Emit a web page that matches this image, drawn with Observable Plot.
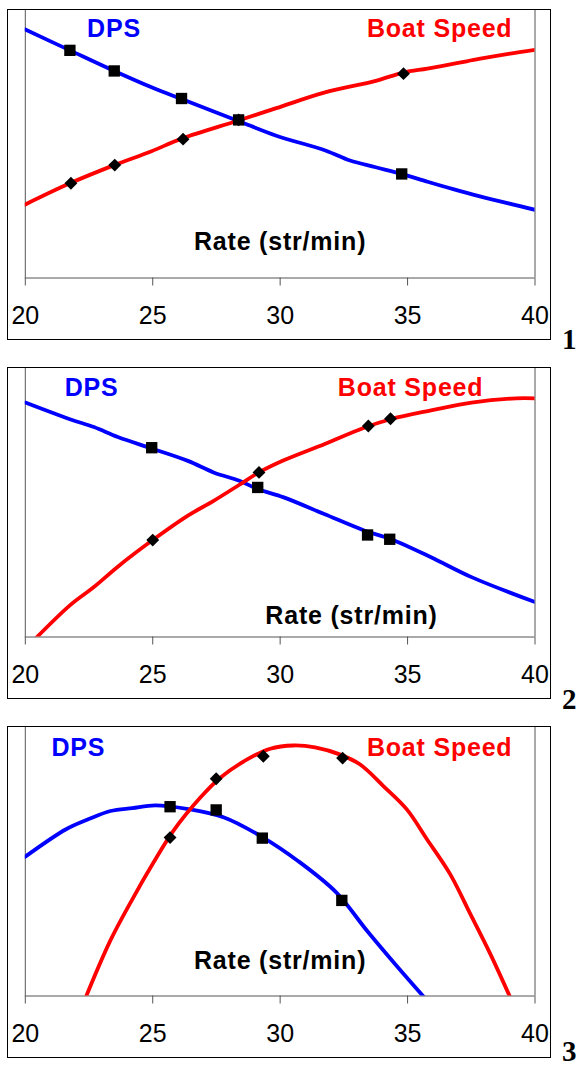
<!DOCTYPE html>
<html><head><meta charset="utf-8">
<script src="https://cdn.jsdelivr.net/npm/d3@7"></script>
<script src="https://cdn.jsdelivr.net/npm/@observablehq/plot@0.6"></script>
<style>
body{margin:0;background:#fff;width:578px;height:1067px;position:relative;overflow:hidden;font-family:"Liberation Sans",Arial,sans-serif;}
.box{position:absolute;left:7px;width:544px;border:1.5px solid #000;box-sizing:border-box;background:#fff;}
.box svg{position:absolute;left:0;top:0;overflow:visible;}
.num{position:absolute;left:562px;font-family:"Liberation Serif","Times New Roman",serif;font-weight:bold;font-size:29px;line-height:1;color:#000;}
</style></head><body>
<script>
// ---- shared labels ----
const xTicks = [20, 25, 30, 35, 40];
const seriesNames = ["DPS", "Boat Speed"];
const xLabel = "Rate (str/min)";
const panelNumbers = ["1", "2", "3"];

// ---- Panel 1 ----
const p1DpsRate = [20, 21.75, 23.49, 24.93, 26.16, 28.33, 29.85, 31.8, 32.74, 33.75, 34.77, 35.78, 36.79, 37.8, 40];
const p1Dps     = [92.9, 85.1, 77.4, 71.4, 66.8, 58.8, 53.2, 47.6, 43.9, 41.4, 38.9, 36.0, 33.2, 30.6, 25.5];
const p1SpeedRate = [20, 21.75, 23.49, 24.93, 26.16, 28.33, 29.85, 31.73, 33.75, 34.84, 35.78, 36.93, 37.8, 38.96, 40];
const p1Speed     = [27.5, 35.4, 42.2, 47.3, 52.2, 58.8, 63.5, 69.3, 73.7, 76.8, 78.3, 80.3, 81.9, 83.8, 85.3];
const p1SquareRate = [21.75, 23.49, 26.13, 28.37, 34.77];
const p1SquareDps  = [85.1, 77.4, 67.1, 59.1, 38.9];
const p1DiamondRate  = [21.79, 23.51, 26.19, 28.37, 34.84];
const p1DiamondSpeed = [35.4, 42.2, 51.9, 59.1, 76.4];

// ---- Panel 2 ----
const p2DpsRate = [20, 21.75, 22.69, 23.63, 24.93, 26.38, 27.39, 28.4, 29.12, 30.14, 31.73, 33.32, 34.33, 35.92, 37.51, 40];
const p2Dps     = [87.3, 81.1, 78.2, 74.5, 70.3, 65.6, 61.3, 58.2, 55.1, 52.0, 45.8, 39.6, 36.5, 29.7, 22.3, 13.0];
const p2SpeedRate = [20.2, 21.75, 22.69, 23.63, 25.0, 26.38, 27.39, 28.4, 29.17, 30.14, 31.73, 33.32, 34.33, 35.92, 37.51, 39.25, 40];
const p2Speed     = [-2.5, 11.8, 18.6, 26.2, 36.1, 45.2, 50.7, 56.7, 61.3, 65.8, 71.8, 78.0, 81.1, 84.4, 87.3, 88.9, 88.9];
const p2SquareRate = [24.96, 29.12, 33.43, 34.3];
const p2SquareDps  = [70.5, 55.7, 38.0, 36.4];
const p2DiamondRate  = [25.0, 29.17, 33.46, 34.33];
const p2DiamondSpeed = [36.1, 61.3, 78.6, 81.3];

// ---- Panel 3 ----
const p3DpsRate = [20, 21.6, 22.47, 23.34, 24.2, 25.1, 26.4, 27.8, 29.3, 30.7, 32.2, 33.4, 34.6, 35.7];
const p3Dps     = [51.9, 62.1, 65.8, 68.9, 70.0, 71.0, 69.6, 66.5, 59.2, 50.3, 38.6, 24.4, 10.9, -1];
const p3SpeedRate = [22.35, 23.34, 24.21, 25.03, 25.81, 26.86, 27.64, 28.69, 29.61, 30.52, 31.37, 32.36, 33.14, 34.06, 34.97, 35.76, 36.67, 37.46, 38.24, 39.05];
const p3Speed     = [-1, 20.7, 36.2, 49.7, 61.5, 73.8, 81.2, 88.0, 92.1, 93.3, 92.6, 89.9, 86.2, 78.1, 69.5, 58.4, 45.4, 30.6, 15.8, -1];
const p3SquareRate = [25.68, 27.49, 29.3, 32.42];
const p3SquareDps  = [70.5, 69.3, 58.8, 35.6];
const p3DiamondRate  = [25.68, 27.49, 29.34, 32.45];
const p3DiamondSpeed = [59.0, 80.9, 89.3, 88.6];

const zip = (xs, ys) => xs.map((x, i) => ({x, y: ys[i]}));

function panel(c) {
  const labels = [
    {x: c.dpsX, y: c.topY, t: seriesNames[0], col: "#0000ff"},
    {x: c.speedX, y: c.topY, t: seriesNames[1], col: "#ff0000"},
    {x: c.rateX, y: c.rateY, t: xLabel, col: "#000"}
  ];
  const svg = Plot.plot({
    width: 541, height: c.h,
    marginLeft: 16.8, marginRight: 14.5, marginTop: 0, marginBottom: 60.5,
    x: {domain: [20, 40], axis: null},
    y: {domain: [0, 100], axis: null},
    style: {fontFamily: "'Liberation Sans', Arial, sans-serif", background: "transparent", overflow: "visible"},
    marks: [
      Plot.ruleX([20, 40], {stroke: "#555", strokeWidth: 1}),
      Plot.ruleY([0], {stroke: "#555", strokeWidth: 1}),
      Plot.axisX({ticks: xTicks, tickSize: 8, tickPadding: 20, fontSize: 25, stroke: "#555", fill: "#000", label: null, tickFormat: d => String(d)}),
      Plot.line(zip(c.dpsRate, c.dps), {x: "x", y: "y", stroke: "#0000ff", strokeWidth: 3.8, curve: "catmull-rom", clip: true}),
      Plot.line(zip(c.speedRate, c.speed), {x: "x", y: "y", stroke: "#ff0000", strokeWidth: 3.8, curve: "catmull-rom", clip: true}),
      Plot.dot(zip(c.diRate, c.di), {x: "x", y: "y", symbol: "diamond2", r: 5.8, fill: "#000", stroke: "none"}),
      Plot.dot(zip(c.sqRate, c.sq), {x: "x", y: "y", symbol: "square", r: 6.4, fill: "#000", stroke: "none"}),
      Plot.text(labels, {x: "x", y: "y", text: "t", fill: "col", fontSize: 25, fontWeight: "bold", textAnchor: "middle", lineAnchor: "bottom"})
    ]
  });
  svg.querySelectorAll('g[aria-label="text"] text').forEach(t => t.style.letterSpacing = "0.8px");
  return svg;
}

const panels = [
  {top: 9, boxH: 331, h: 328, dpsRate: p1DpsRate, dps: p1Dps, speedRate: p1SpeedRate, speed: p1Speed,
   sqRate: p1SquareRate, sq: p1SquareDps, diRate: p1DiamondRate, di: p1DiamondSpeed,
   dpsX: 23.48, speedX: 36.26, topY: 90.1, rateX: 30.0, rateY: 10.3, numTop: 325},
  {top: 367, boxH: 332, h: 329, dpsRate: p2DpsRate, dps: p2Dps, speedRate: p2SpeedRate, speed: p2Speed,
   sqRate: p2SquareRate, sq: p2SquareDps, diRate: p2DiamondRate, di: p2DiamondSpeed,
   dpsX: 22.6, speedX: 35.12, topY: 89.7, rateX: 32.8, rateY: 5.0, numTop: 685},
  {top: 726, boxH: 332, h: 329, dpsRate: p3DpsRate, dps: p3Dps, speedRate: p3SpeedRate, speed: p3Speed,
   sqRate: p3SquareRate, sq: p3SquareDps, diRate: p3DiamondRate, di: p3DiamondSpeed,
   dpsX: 22.08, speedX: 36.26, topY: 89.5, rateX: 30.0, rateY: 10.2, numTop: 1037}
];

panels.forEach((c, i) => {
  const box = document.createElement("div");
  box.className = "box";
  box.style.top = c.top + "px";
  box.style.height = c.boxH + "px";
  box.appendChild(panel(c));
  document.body.appendChild(box);
  const n = document.createElement("div");
  n.className = "num";
  n.style.top = c.numTop + "px";
  n.textContent = panelNumbers[i];
  document.body.appendChild(n);
});
</script>
</body></html>
